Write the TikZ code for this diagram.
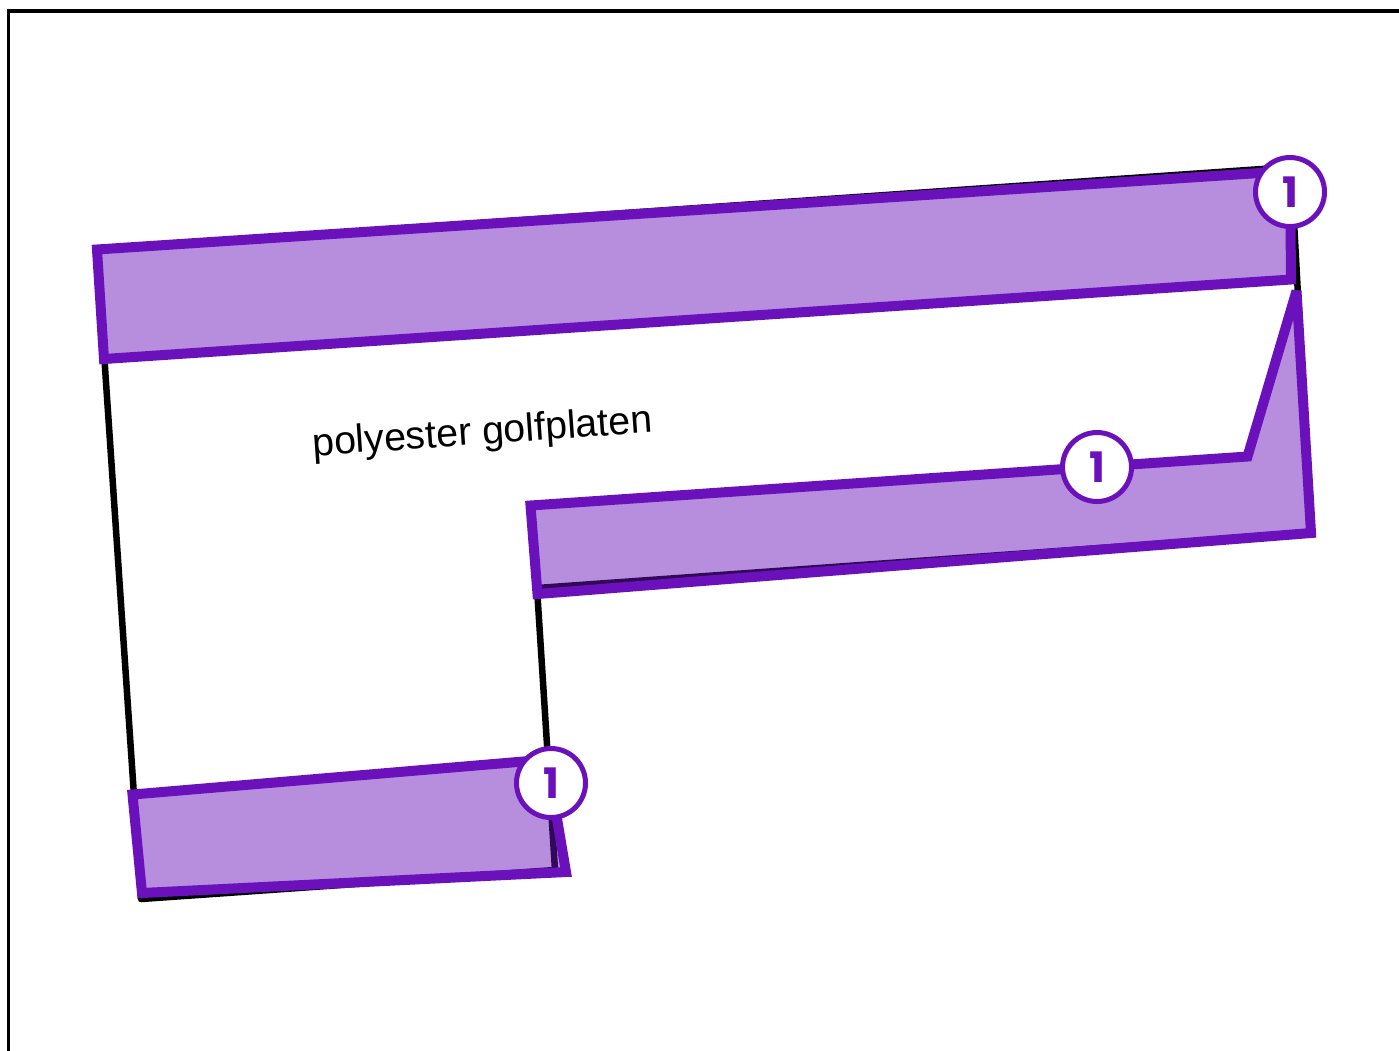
\documentclass[tikz,border=0pt]{standalone}
\usepackage{fontspec}
\setmainfont{Liberation Sans}
\newfontfamily\badgefont{Poppins}[Scale=1]
\definecolor{zonepurple}{HTML}{6A11BB}
\tikzset{
  frameline/.style={draw=black,line width=3.4pt},
  plateline/.style={draw=black,line width=6.5pt,line join=round},
  zone/.style={draw=zonepurple,line width=10pt,miter limit=4,fill=zonepurple,fill opacity=0.48,draw opacity=1},
  badge/.style={circle,draw=zonepurple,line width=5pt,fill=white,inner sep=0pt,minimum size=69pt,
    text=zonepurple,font=\badgefont\bfseries\fontsize{42}{42}\selectfont},
}
\begin{document}
\begin{tikzpicture}[x=1pt,y=-1pt]
\useasboundingbox (0,0) rectangle (1399,1050);
\clip (0,0) rectangle (1399,1050);
\fill[white] (0,0) rectangle (1399,1050);
\draw[frameline] (8.5,1055) -- (8.5,11) -- (1405,11);
\draw[plateline] (97,249.5) -- (1291,167) -- (1311,533) -- (537,588) -- (555,870) -- (141,899) -- cycle;
\node[rotate=4,font=\fontsize{39.3}{39.3}\selectfont,text=black] (label) at (482.5,434) {polyester golfplaten};
\draw[zone] (97,249.5) -- (1290,171) -- (1291,279.5) -- (104,359) -- cycle;
\draw[zone] (530.5,505.5) -- (1247.5,456.5) -- (1296.5,291) -- (1311,533) -- (537.5,594) -- cycle;
\draw[zone] (132.5,794.5) -- (547,759.5) -- (566,872) -- (142,893) -- cycle;
\node[badge] (b1) at (1290,192) {1};
\node[badge] (b2) at (1097,467) {1};
\node[badge] (b3) at (551,783) {1};
\end{tikzpicture}
\end{document}
